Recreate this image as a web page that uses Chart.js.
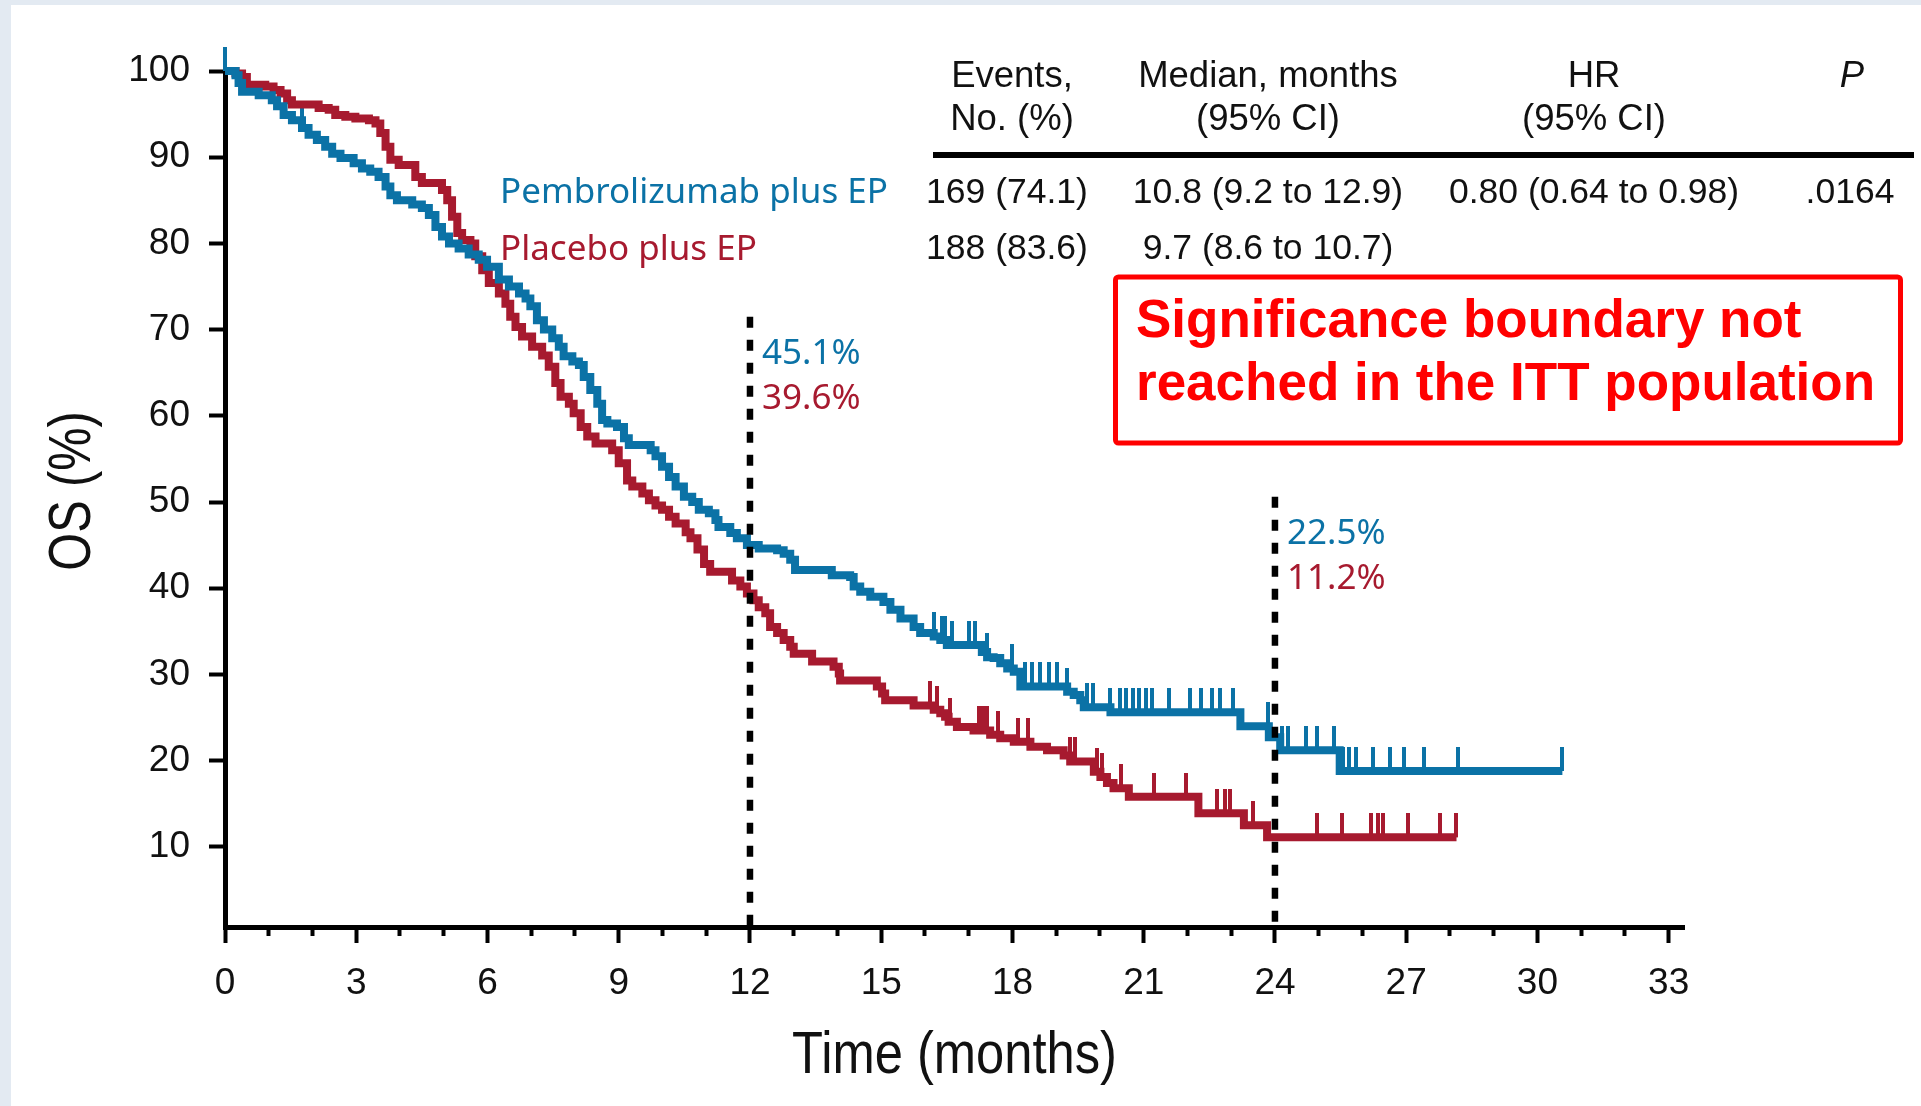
<!DOCTYPE html>
<html><head><meta charset="utf-8">
<script src="https://cdn.jsdelivr.net/npm/chart.js@4.4.1/dist/chart.umd.min.js"></script>
<style>html,body{margin:0;padding:0;background:#e3eaf2;overflow:hidden}canvas{display:block}</style>
</head><body><canvas id="c" width="1921" height="1106"></canvas>
<script>
// ---------- DATA ----------
const seriesNames = ['Pembrolizumab plus EP', 'Placebo plus EP'];
const axisTitles = {x: 'Time (months)', y: 'OS (%)'};

const pembroTimes = [0,0.24,0.31,0.39,0.77,1.07,1.19,1.34,1.53,1.76,1.91,2.10,2.29,2.45,2.64,2.94,3.13,3.32,3.51,3.67,3.78,3.93,4.28,4.50,4.66,4.81,4.96,5.12,5.34,5.57,5.80,5.99,6.26,6.49,6.72,6.87,6.98,7.13,7.29,7.48,7.63,7.74,7.94,8.09,8.20,8.35,8.51,8.62,8.74,8.96,9.12,9.23,9.73,9.84,9.99,10.15,10.30,10.49,10.68,10.83,11.06,11.21,11.28,11.55,11.70,11.93,12.20,12.62,12.77,12.92,13.03,13.87,14.29,14.37,14.52,14.75,15.05,15.21,15.44,15.74,15.89,16.20,16.35,16.50,17.30,17.42,17.57,17.72,17.88,18.03,18.18,19.25,19.40,19.55,19.63,20.24,23.21,23.86,24.12,25.48,30.57];
const pembroOS    = [100,99.5,98.6,97.6,97.2,96.6,95.9,94.9,94.3,93.4,92.6,92.0,91.2,90.4,89.9,89.3,88.7,88.3,87.7,86.6,85.6,85.0,84.5,84.1,83.3,81.9,80.8,80.0,79.4,78.7,78.1,77.3,75.8,75.0,74.2,73.6,72.7,71.1,70.0,69.0,68.0,66.9,66.3,65.9,64.5,63.0,61.4,59.5,59.1,58.7,57.4,56.6,56.0,55.3,54.1,52.9,51.8,50.6,50.0,49.1,48.7,47.9,47.1,46.4,45.8,45.0,44.6,44.4,44.0,43.3,42.1,41.5,41.3,40.2,39.6,39.0,38.4,37.5,36.5,35.5,34.8,34.4,34.0,33.4,32.6,32.0,31.9,31.3,30.7,30.3,28.6,28.0,27.6,27.0,26.2,25.6,24.0,22.7,21.2,18.8,18.8];

const placeboTimes = [0,0.24,0.39,0.50,0.92,1.11,1.27,1.42,1.53,2.14,2.37,2.52,2.75,2.98,3.29,3.44,3.55,3.67,3.78,3.97,4.35,4.50,4.96,5.08,5.19,5.31,5.42,5.61,5.72,5.88,6.03,6.26,6.41,6.52,6.64,6.79,7.02,7.25,7.40,7.55,7.67,7.86,7.97,8.13,8.28,8.47,8.85,9.00,9.19,9.31,9.54,9.69,9.84,9.99,10.15,10.30,10.53,10.64,10.80,10.95,11.09,11.59,11.78,11.93,12.08,12.20,12.35,12.46,12.62,12.77,12.92,13.00,13.42,13.91,14.03,14.06,14.90,15.02,15.09,15.74,16.20,16.35,16.46,16.54,16.73,17.11,17.49,17.72,18.03,18.41,18.79,19.17,19.32,19.86,20.01,20.16,20.31,20.66,22.25,23.29,23.82,28.15];
const placeboOS    = [100,99.7,99.3,98.4,98.2,97.8,97.4,96.6,96.1,95.7,95.5,94.9,94.7,94.5,94.3,93.9,92.8,91.2,89.7,89.1,87.7,87.0,86.2,85.0,83.1,81.2,80.4,80.0,78.5,76.9,75.4,74.2,73.0,71.5,70.3,69.2,68.0,67.0,65.7,63.8,62.2,61.4,60.3,58.7,57.6,56.8,56.0,54.5,52.5,51.8,51.0,50.2,49.6,49.1,48.3,47.5,46.5,45.8,44.5,42.8,41.9,40.9,40.2,39.4,38.6,37.8,37.1,35.5,34.8,34.0,33.2,32.4,31.5,30.9,30.1,29.3,28.6,27.8,27.0,26.4,25.9,25.5,25.1,24.5,23.9,23.5,23.0,22.6,22.2,21.6,21.2,20.6,19.9,18.7,18.1,17.4,16.8,15.8,13.9,12.5,11.1,11.1];

const pembroCensorTimes = [0,1.76,16.20,16.38,16.46,16.62,17.0,17.15,17.42,17.99,18.29,18.45,18.64,18.83,19.02,19.25,19.70,19.85,20.24,20.45,20.6,20.75,20.9,21.05,21.2,21.58,22.05,22.3,22.55,22.75,23.05,23.83,24.15,24.3,24.7,24.97,25.34,25.55,25.7,25.85,26.25,26.64,26.94,27.40,28.18,30.55];
const placeboCensorTimes = [16.12,16.27,16.58,17.23,17.32,17.42,17.68,18.13,18.36,19.32,19.44,19.93,20.05,20.47,21.23,21.97,22.68,22.85,22.98,23.5,24.97,25.54,26.2,26.35,26.48,27.05,27.78,28.13];

const landmarkTimes = [12, 24];
const landmarkTops = [71.5, 50.6];
const landmarkPembroLabels = ['45.1%', '22.5%'];
const landmarkPlaceboLabels = ['39.6%', '11.2%'];

const xTickValues = [0,1,2,3,4,5,6,7,8,9,10,11,12,13,14,15,16,17,18,19,20,21,22,23,24,25,26,27,28,29,30,31,32,33];
const yTickValues = [10,20,30,40,50,60,70,80,90,100];

const tableHeader = [['Events,', 'No. (%)'], ['Median, months', '(95% CI)'], ['HR', '(95% CI)'], ['P', '']];
const tableRows = [['169 (74.1)', '10.8 (9.2 to 12.9)', '0.80 (0.64 to 0.98)', '.0164'],
                   ['188 (83.6)', '9.7 (8.6 to 10.7)', '', '']];
const boxLines = ['Significance boundary not', 'reached in the ITT population'];

// ---------- STYLE ----------
const BLUE = '#0b72a6';
const RED = '#a71a2f';
const SANS = "'Liberation Sans', Arial, sans-serif";
const LEG = "'Noto Sans', Roboto, sans-serif";

function toPoints(ts, ys) { return ts.map((t, i) => ({x: t, y: ys[i]})); }
function survAt(ts, ys, t) {
  let v = ys[0];
  for (let i = 0; i < ts.length; i++) { if (ts[i] <= t + 1e-9) v = ys[i]; else break; }
  return v;
}
function censorMark(color) {
  const c = document.createElement('canvas');
  c.width = 4; c.height = 48;
  const g = c.getContext('2d');
  g.fillStyle = color; g.fillRect(0, 0, 4, 24);
  return c;
}

const pembroData = toPoints(pembroTimes, pembroOS);
const placeboData = toPoints(placeboTimes, placeboOS);
const pembroCensor = pembroCensorTimes.map(t => ({x: t, y: survAt(pembroTimes, pembroOS, t)}));
const placeboCensor = placeboCensorTimes.map(t => ({x: t, y: survAt(placeboTimes, placeboOS, t)}));
const Y_MIN = 0.7;
const landmarkSets = landmarkTimes.map((t, i) => ({
  data: [{x: t, y: landmarkTops[i]}, {x: t, y: Y_MIN}],
  borderColor: '#000', borderWidth: 6.5, borderDash: [11, 12], pointRadius: 0,
  borderCapStyle: 'butt', order: 0, clip: false
}));

const bgPlugin = {
  id: 'bg',
  beforeDraw(chart) {
    const ctx = chart.ctx;
    ctx.save();
    ctx.fillStyle = '#e3eaf2';
    ctx.fillRect(0, 0, chart.width, chart.height);
    ctx.fillStyle = '#ffffff';
    ctx.fillRect(11, 5, chart.width - 11, chart.height - 5);
    ctx.restore();
  }
};

const annotPlugin = {
  id: 'annot',
  afterDraw(chart) {
    const ctx = chart.ctx;
    const xs = chart.scales.x, ys = chart.scales.y;
    const area = chart.chartArea;
    ctx.save();
    // axis titles (condensed look)
    ctx.fillStyle = '#111';
    ctx.font = '60px ' + SANS;
    ctx.textAlign = 'center';
    ctx.textBaseline = 'alphabetic';
    ctx.save();
    ctx.translate((area.left + area.right) / 2, 1073);
    ctx.scale(0.845, 1);
    ctx.fillText(axisTitles.x, 0, 0);
    ctx.restore();
    ctx.save();
    ctx.translate(90, 491);
    ctx.rotate(-Math.PI / 2);
    ctx.scale(0.81, 1);
    ctx.fillText(axisTitles.y, 0, 0);
    ctx.restore();

    // landmark percentages
    ctx.font = '35px ' + LEG;
    ctx.textAlign = 'left';
    landmarkTimes.forEach((t, i) => {
      const px = xs.getPixelForValue(t) + 12;
      const top = ys.getPixelForValue(landmarkTops[i]);
      ctx.fillStyle = BLUE; ctx.fillText(landmarkPembroLabels[i], px, top + 47);
      ctx.fillStyle = RED; ctx.fillText(landmarkPlaceboLabels[i], px, top + 92);
    });
    // legend labels
    ctx.fillStyle = BLUE; ctx.fillText(seriesNames[0], 500, 203);
    ctx.fillStyle = RED; ctx.fillText(seriesNames[1], 500, 260);
    // table
    const colX = [1012, 1268, 1594, 1852];
    ctx.fillStyle = '#111';
    ctx.textAlign = 'center';
    tableHeader.forEach((h, i) => {
      ctx.font = (i === 3 ? 'italic ' : '') + '36.5px ' + SANS;
      ctx.fillText(h[0], colX[i], 87);
      if (h[1]) ctx.fillText(h[1], colX[i], 130);
    });
    ctx.fillStyle = '#000';
    ctx.fillRect(933, 152, 981, 6);
    ctx.fillStyle = '#111';
    ctx.font = '35.5px ' + SANS;
    const rowY = [203, 259];
    tableRows.forEach((r, ri) => {
      r.forEach((txt, ci) => { if (txt) ctx.fillText(txt, colX[ci] + (ci === 0 ? -5 : ci === 3 ? -2 : 0), rowY[ri]); });
    });
    // red box
    ctx.strokeStyle = '#ff0000';
    ctx.lineWidth = 5;
    ctx.beginPath();
    if (ctx.roundRect) ctx.roundRect(1115.5, 277, 785, 166, 3); else ctx.rect(1115.5, 277, 785, 166);
    ctx.stroke();
    ctx.fillStyle = '#ff0000';
    ctx.textAlign = 'left';
    ctx.font = 'bold 53px ' + SANS;
    ctx.fillText(boxLines[0], 1136, 337);
    ctx.fillText(boxLines[1], 1136, 400);
    ctx.restore();
  }
};

new Chart(document.getElementById('c'), {
  type: 'line',
  data: {
    datasets: [
      {label: seriesNames[0], data: pembroData, borderColor: BLUE, borderWidth: 8, stepped: true,
       pointRadius: 0, fill: false, order: 2, clip: false, borderJoinStyle: 'miter', borderCapStyle: 'butt'},
      {label: seriesNames[1], data: placeboData, borderColor: RED, borderWidth: 8, stepped: true,
       pointRadius: 0, fill: false, order: 3, clip: false, borderJoinStyle: 'miter', borderCapStyle: 'butt'},
      {label: 'censor-pembro', data: pembroCensor, showLine: false, pointStyle: censorMark(BLUE),
       pointRadius: 3, order: 4, clip: false},
      {label: 'censor-placebo', data: placeboCensor, showLine: false, pointStyle: censorMark(RED),
       pointRadius: 3, order: 5, clip: false},
      ...landmarkSets
    ]
  },
  options: {
    responsive: false,
    animation: false,
    events: [],
    layout: {padding: {left: 0, top: 71, right: 237, bottom: 0}},
    plugins: {legend: {display: false}, tooltip: {enabled: false}},
    scales: {
      x: {
        type: 'linear', min: 0, max: 33.35,
        afterBuildTicks: s => { s.ticks = xTickValues.map(v => ({value: v})); },
        afterFit: s => { s.height = 179; },
        border: {display: true, width: 5, color: '#000'},
        grid: {drawOnChartArea: false, drawTicks: true, tickLength: 16, tickWidth: 4, tickColor: '#000',
               tickBorderDash: c => (c.tick && c.tick.value % 3 === 0) ? [] : [6, 100]},
        ticks: {autoSkip: false, maxRotation: 0, minRotation: 0, padding: 19, color: '#111',
                font: {family: SANS, size: 37},
                callback: v => (v % 3 === 0 ? String(v) : '')},
        title: {display: false}
      },
      y: {
        type: 'linear', min: Y_MIN, max: 100,
        afterBuildTicks: s => { s.ticks = yTickValues.map(v => ({value: v})); },
        afterFit: s => { s.width = 225; },
        border: {display: true, width: 5, color: '#000'},
        grid: {drawOnChartArea: false, drawTicks: true, tickLength: 16, tickWidth: 4, tickColor: '#000'},
        ticks: {padding: 19, color: '#111', font: {family: SANS, size: 37}},
        title: {display: false}
      }
    }
  },
  plugins: [bgPlugin, annotPlugin]
});
</script>
</body></html>
